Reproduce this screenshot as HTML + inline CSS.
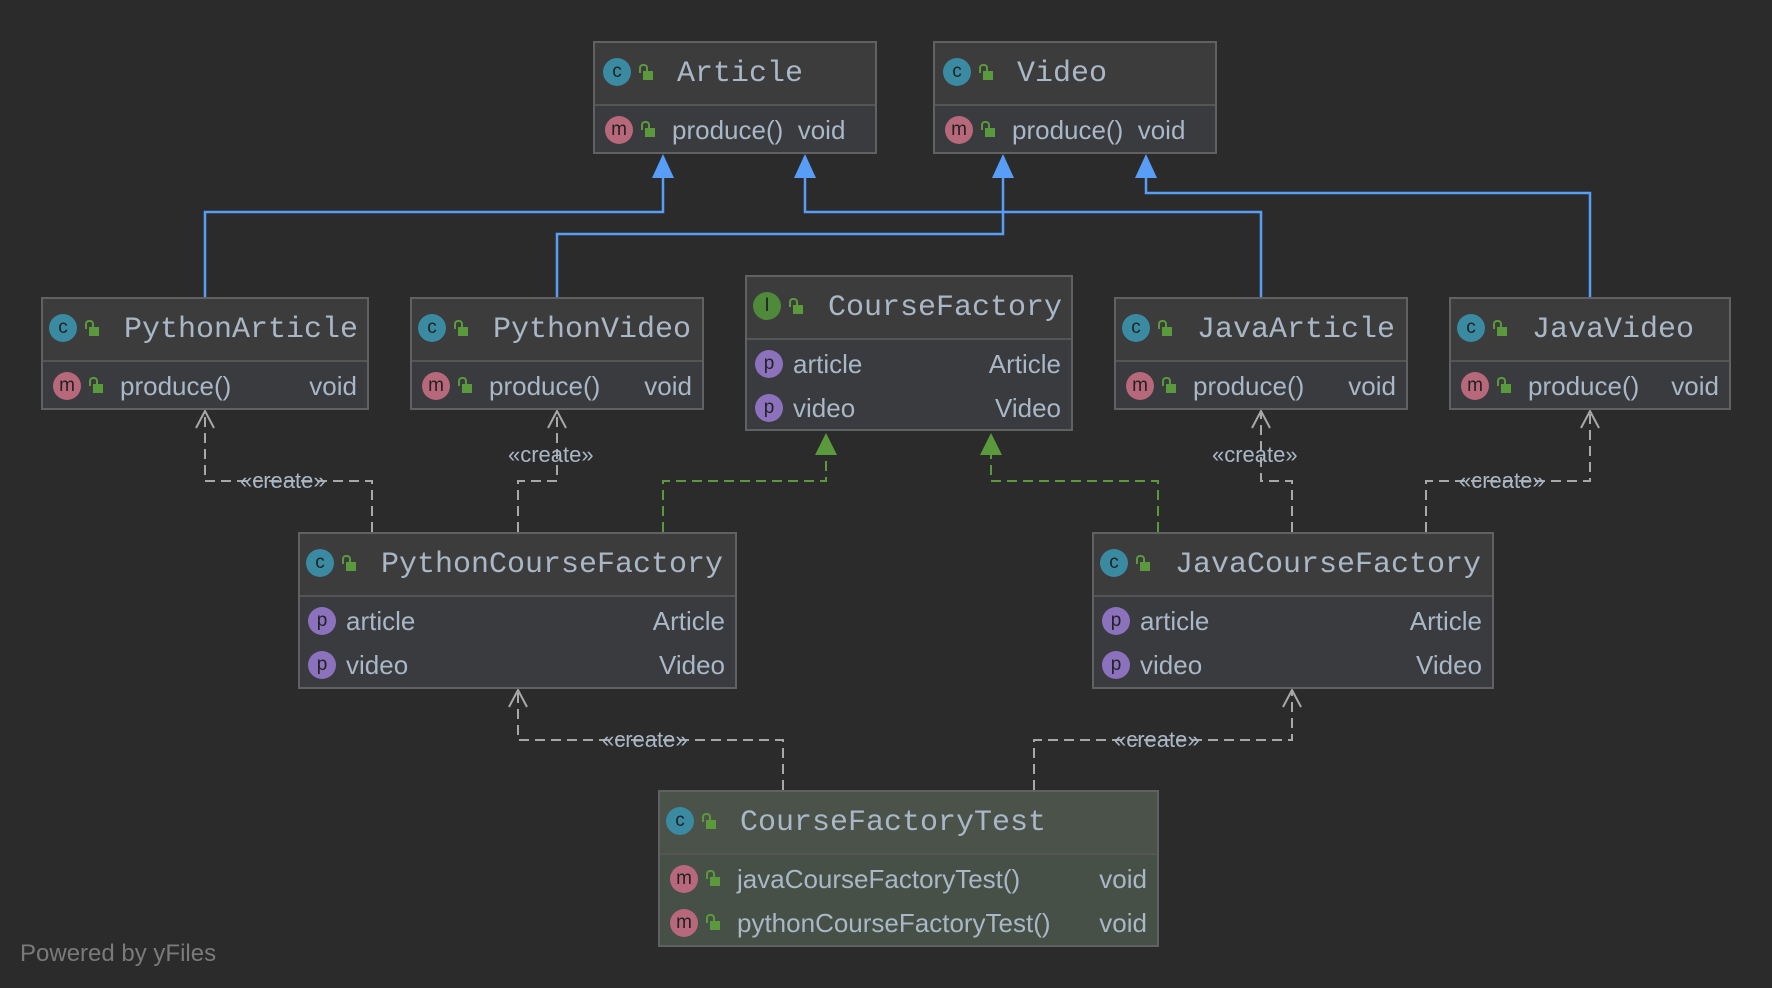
<!DOCTYPE html>
<html><head><meta charset="utf-8"><style>
body{margin:0;width:1772px;height:988px;background:#2b2b2b;overflow:hidden;position:relative;font-family:"Liberation Sans",sans-serif;color:#a9b7c6}
.b{position:absolute;border:2px solid #5f6163;background:#393b3e;box-sizing:border-box}
.h{height:61px;background:#3c3c3c;border-bottom:2px solid #555;position:relative;font-family:"Liberation Mono",monospace;font-size:30px}
.h .t{position:absolute;left:81px;top:14px;white-space:nowrap}
.r{height:44px;position:relative;font-size:26px}
.r .n{position:absolute;left:77px;top:7px;white-space:nowrap}
.r .ty{position:absolute;right:10px;top:7px}
.pr .n{left:46px}
.ic{position:absolute;width:28px;height:28px;border-radius:50%;font-size:19px;line-height:28px;text-align:center;color:#222;font-family:"Liberation Sans",sans-serif}
.c{background:#3a8aa2}.m{background:#b7687a}.p{background:#8c72bd}.i{background:#4e8a3a}
.lk{position:absolute;width:10px;height:9px;background:#5a9a3c}
.lk:before{content:"";position:absolute;left:-4px;top:-7px;width:5px;height:7px;border:2px solid #5a9a3c;border-bottom:none;border-radius:4px 4px 0 0}
.lbl{position:absolute;font-size:22px;color:#a9b7c6;background:transparent;white-space:nowrap}
</style></head><body>
<svg width="1772" height="988" style="position:absolute;left:0;top:0">
<g fill="none" stroke="#589df6" stroke-width="2.5">
<polyline points="205,297 205,212 663,212 663,170"/>
<polyline points="557,297 557,234 1003,234 1003,170"/>
<polyline points="1261,297 1261,212 805,212 805,170"/>
<polyline points="1590,297 1590,193 1146,193 1146,170"/>
</g>
<g fill="#589df6">
<polygon points="663,154 652,178 674,178"/><polygon points="805,154 794,178 816,178"/>
<polygon points="1003,154 992,178 1014,178"/><polygon points="1146,154 1135,178 1157,178"/>
</g>
<g fill="none" stroke="#a8a8a8" stroke-width="2" stroke-dasharray="10,6">
<polyline points="372,532 372,481 205,481 205,412"/>
<polyline points="518,532 518,481 557,481 557,412"/>
<polyline points="1292,532 1292,481 1261,481 1261,412"/>
<polyline points="1426,532 1426,481 1590,481 1590,412"/>
<polyline points="783,790 783,740 518,740 518,691"/>
<polyline points="1034,790 1034,740 1292,740 1292,691"/>
</g>
<g fill="none" stroke="#a8a8a8" stroke-width="2">
<polyline points="196,428 205,411 214,428"/><polyline points="548,428 557,411 566,428"/>
<polyline points="1252,428 1261,411 1270,428"/><polyline points="1581,428 1590,411 1599,428"/>
<polyline points="509,707 518,690 527,707"/><polyline points="1283,707 1292,690 1301,707"/>
</g>
<g fill="none" stroke="#5a9a3c" stroke-width="2" stroke-dasharray="10,6">
<polyline points="663,532 663,481 826,481 826,452"/>
<polyline points="1158,532 1158,481 991,481 991,452"/>
</g>
<g fill="#5a9a3c"><polygon points="826,433 815,455 837,455"/><polygon points="991,433 980,455 1002,455"/></g>
</svg>

<div class="lbl" style="left:240px;top:468px">«create»</div>
<div class="lbl" style="left:508px;top:442px">«create»</div>
<div class="lbl" style="left:1212px;top:442px">«create»</div>
<div class="lbl" style="left:1459px;top:468px">«create»</div>
<div class="lbl" style="left:602px;top:727px">«create»</div>
<div class="lbl" style="left:1114px;top:727px">«create»</div>

<div class="b" style="left:593px;top:41px;width:284px;height:113px">
<div class="h"><span class="ic c" style="left:8px;top:15px">c</span><span class="lk" style="left:48px;top:28px"></span><span class="t" style="left:82px">Article</span></div>
<div class="r" style="margin-top:2px"><span class="ic m" style="left:10px;top:8px">m</span><span class="lk" style="left:50px;top:20px"></span><span class="n" style="left:77px">produce()&nbsp; void</span></div></div>

<div class="b" style="left:933px;top:41px;width:284px;height:113px">
<div class="h"><span class="ic c" style="left:8px;top:15px">c</span><span class="lk" style="left:48px;top:28px"></span><span class="t" style="left:82px">Video</span></div>
<div class="r" style="margin-top:2px"><span class="ic m" style="left:10px;top:8px">m</span><span class="lk" style="left:50px;top:20px"></span><span class="n" style="left:77px">produce()&nbsp; void</span></div></div>

<div class="b" style="left:41px;top:297px;width:328px;height:113px">
<div class="h"><span class="ic c" style="left:6px;top:15px">c</span><span class="lk" style="left:46px;top:28px"></span><span class="t">PythonArticle</span></div>
<div class="r" style="margin-top:2px"><span class="ic m" style="left:10px;top:8px">m</span><span class="lk" style="left:50px;top:20px"></span><span class="n">produce()</span><span class="ty">void</span></div></div>

<div class="b" style="left:410px;top:297px;width:294px;height:113px">
<div class="h"><span class="ic c" style="left:6px;top:15px">c</span><span class="lk" style="left:46px;top:28px"></span><span class="t">PythonVideo</span></div>
<div class="r" style="margin-top:2px"><span class="ic m" style="left:10px;top:8px">m</span><span class="lk" style="left:50px;top:20px"></span><span class="n">produce()</span><span class="ty">void</span></div></div>

<div class="b" style="left:1114px;top:297px;width:294px;height:113px">
<div class="h"><span class="ic c" style="left:6px;top:15px">c</span><span class="lk" style="left:46px;top:28px"></span><span class="t">JavaArticle</span></div>
<div class="r" style="margin-top:2px"><span class="ic m" style="left:10px;top:8px">m</span><span class="lk" style="left:50px;top:20px"></span><span class="n">produce()</span><span class="ty">void</span></div></div>

<div class="b" style="left:1449px;top:297px;width:282px;height:113px">
<div class="h"><span class="ic c" style="left:6px;top:15px">c</span><span class="lk" style="left:46px;top:28px"></span><span class="t">JavaVideo</span></div>
<div class="r" style="margin-top:2px"><span class="ic m" style="left:10px;top:8px">m</span><span class="lk" style="left:50px;top:20px"></span><span class="n">produce()</span><span class="ty">void</span></div></div>

<div class="b" style="left:745px;top:275px;width:328px;height:156px">
<div class="h"><span class="ic i" style="left:6px;top:15px">I</span><span class="lk" style="left:46px;top:28px"></span><span class="t">CourseFactory</span></div>
<div class="r pr" style="margin-top:2px"><span class="ic p" style="left:8px;top:8px">p</span><span class="n">article</span><span class="ty">Article</span></div>
<div class="r pr"><span class="ic p" style="left:8px;top:8px">p</span><span class="n">video</span><span class="ty">Video</span></div></div>

<div class="b" style="left:298px;top:532px;width:439px;height:157px">
<div class="h"><span class="ic c" style="left:6px;top:15px">c</span><span class="lk" style="left:46px;top:28px"></span><span class="t">PythonCourseFactory</span></div>
<div class="r pr" style="margin-top:2px"><span class="ic p" style="left:8px;top:8px">p</span><span class="n">article</span><span class="ty">Article</span></div>
<div class="r pr"><span class="ic p" style="left:8px;top:8px">p</span><span class="n">video</span><span class="ty">Video</span></div></div>

<div class="b" style="left:1092px;top:532px;width:402px;height:157px">
<div class="h"><span class="ic c" style="left:6px;top:15px">c</span><span class="lk" style="left:46px;top:28px"></span><span class="t">JavaCourseFactory</span></div>
<div class="r pr" style="margin-top:2px"><span class="ic p" style="left:8px;top:8px">p</span><span class="n">article</span><span class="ty">Article</span></div>
<div class="r pr"><span class="ic p" style="left:8px;top:8px">p</span><span class="n">video</span><span class="ty">Video</span></div></div>

<div class="b" style="left:658px;top:790px;width:501px;height:157px;background:#465046">
<div class="h" style="background:#4a5249"><span class="ic c" style="left:6px;top:15px">c</span><span class="lk" style="left:46px;top:28px"></span><span class="t" style="left:80px">CourseFactoryTest</span></div>
<div class="r" style="margin-top:2px"><span class="ic m" style="left:10px;top:8px">m</span><span class="lk" style="left:50px;top:20px"></span><span class="n">javaCourseFactoryTest()</span><span class="ty">void</span></div>
<div class="r"><span class="ic m" style="left:10px;top:8px">m</span><span class="lk" style="left:50px;top:20px"></span><span class="n">pythonCourseFactoryTest()</span><span class="ty">void</span></div></div>

<div style="position:absolute;left:20px;top:940px;font-size:24px;color:#7a7a7a">Powered by yFiles</div>
</body></html>
